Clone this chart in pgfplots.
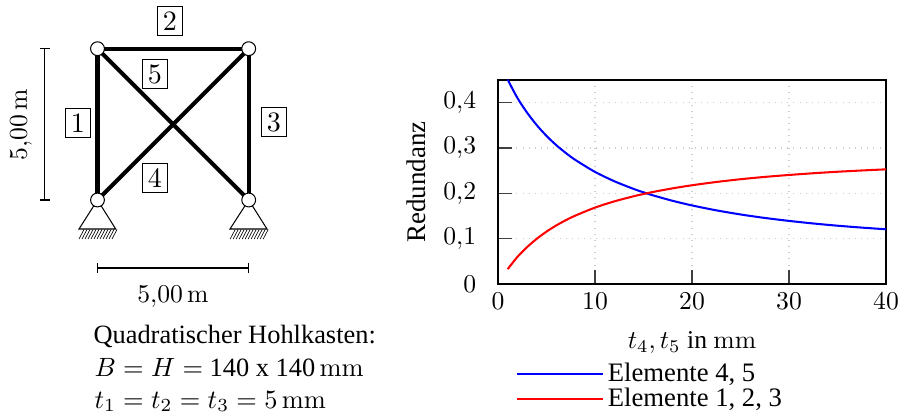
\documentclass[border=0pt]{standalone}
\usepackage[no-math]{fontspec}
\setmainfont{Liberation Serif}
\usepackage{pgfplots}
\pgfplotsset{compat=1.18}
\tikzset{member/.style={draw,line width=0.4pt,inner sep=0pt,minimum width=9.4pt,minimum height=11.3pt,font=\fontsize{10.95}{13}\selectfont}}
\begin{document}
\begin{tikzpicture}
\useasboundingbox (0,0) rectangle (350.61pt,163.02pt);
% diagram canvas in reference pixels
\begin{axis}[at={(0pt,0pt)},anchor=south west,scale only axis,width=350.61pt,height=163.02pt,
  hide axis,xmin=0,xmax=899,ymin=0,ymax=418,y dir=reverse,clip=false]
\addplot[black,line width=1.7pt,forget plot] coordinates {(97.5,200) (97.5,48.7)};
\addplot[black,line width=1.7pt,forget plot] coordinates {(97.5,48.7) (248.7,48.7)};
\addplot[black,line width=1.7pt,forget plot] coordinates {(248.7,48.7) (248.7,200)};
\addplot[black,line width=1.6pt,forget plot] coordinates {(97.5,200) (248.7,48.7)};
\addplot[black,line width=1.6pt,forget plot] coordinates {(97.5,48.7) (248.7,200)};
\addplot[black,line width=0.4pt,forget plot] coordinates {(97.5,200) (79,229) (115.7,229) (97.5,200)};
\addplot[black,line width=0.4pt,forget plot] coordinates {(248.7,200) (230,229) (267,229) (248.7,200)};
\addplot[only marks,mark=*,mark size=2.7pt,mark options={fill=white,draw=black,line width=0.4pt},forget plot]
  coordinates {(97.5,48.7) (248.7,48.7) (97.5,200) (248.7,200)};
\pgfplotsinvokeforeach{79,82,...,112}{
  \draw[black,line width=0.25pt] (axis cs:#1,239) -- (axis cs:#1+5,229.5);
  \draw[black,line width=0.25pt] (axis cs:#1+151.2,239) -- (axis cs:#1+156.2,229.5);
}
% dimensions
\addplot[black,line width=0.4pt,forget plot] coordinates {(44.7,48.7) (44.7,200)};
\addplot[black,line width=0.4pt,forget plot] coordinates {(39.5,48.7) (50,48.7)};
\addplot[black,line width=0.4pt,forget plot] coordinates {(39.5,200) (50,200)};
\addplot[black,line width=0.4pt,forget plot] coordinates {(97.5,268) (248.7,268)};
\addplot[black,line width=0.4pt,forget plot] coordinates {(97.5,263) (97.5,273)};
\addplot[black,line width=0.4pt,forget plot] coordinates {(248.7,263) (248.7,273)};
\node[rotate=90] at (axis cs:21,125) {$5{,}00\,\mathrm{m}$};
\node at (axis cs:173,297) {$5{,}00\,\mathrm{m}$};
% member labels
\node[member] at (axis cs:78,123) {$1$};
\node[member] at (axis cs:170,21) {$2$};
\node[member] at (axis cs:274,122) {$3$};
\node[member] at (axis cs:155,178) {$4$};
\node[member] at (axis cs:155,74) {$5$};
% text block
\node[anchor=base west,inner sep=0pt,scale=1.03] at (axis cs:93,343) {Quadratischer Hohlkasten:};
\node[anchor=base west,inner sep=0pt,scale=1.03] at (axis cs:94,376) {$B=H=$ 140 x 140\,$\mathrm{mm}$};
\node[anchor=base west,inner sep=0pt,scale=1.03] at (axis cs:94,408) {$t_1=t_2=t_3=5\,\mathrm{mm}$};
\end{axis}
% chart
\begin{axis}[at={(194.22pt,52.26pt)},anchor=south west,scale only axis,width=151.32pt,height=79.56pt,
  xmin=0,xmax=40,ymin=0,ymax=0.45,
  xtick={0,10,20,30,40},ytick={0,0.1,0.2,0.3,0.4},
  yticklabels={$0$,{$0{,}1$},{$0{,}2$},{$0{,}3$},{$0{,}4$}},
  yticklabel style={xshift=-5pt},
  xtick pos=bottom,ytick pos=left,tick align=inside,
  major tick length=5.4pt,
  tick style={line width=0.4pt,black!75},
  grid=major,grid style={dotted,black!20,line width=0.5pt},
  axis line style={line width=0.5pt},
  xlabel={$t_4,t_5$ in $\mathrm{mm}$},ylabel={Redundanz},
  xlabel style={yshift=-1.7pt},ylabel style={yshift=-0.3pt,scale=1.05},
  legend style={at={(0.045,-0.365)},anchor=north west,draw=none,fill=none,inner sep=0pt,
    row sep=-2.1pt,nodes={inner sep=1.5pt,anchor=west,scale=1.04}},
  legend cell align=left,
  legend image code/.code={\draw[#1] (0pt,0pt) -- (27.3pt,0pt);\path (0pt,0pt) -- (33.5pt,0pt);},
]
\addplot[blue,line width=0.8pt,smooth] coordinates {
(1,0.4508)(2,0.4104)(3,0.3779)(4,0.3503)(5,0.3267)(6,0.3064)(7,0.2888)(8,0.2733)(10,0.2473)(12,0.2266)(14,0.2096)(15,0.2022)(16,0.1954)(18,0.1835)(20,0.1733)(22.5,0.1625)(25,0.1534)(27.5,0.1457)(30,0.1392)(32.5,0.1335)(35,0.1286)(37.5,0.1244)(40,0.1207)};
\addlegendentry{Elemente 4, 5}
\addplot[red,line width=0.8pt,smooth] coordinates {
(1,0.0328)(2,0.0597)(3,0.0814)(4,0.0998)(5,0.1155)(6,0.1291)(7,0.1408)(8,0.1511)(10,0.1685)(12,0.1823)(14,0.1936)(15,0.1985)(16,0.2031)(18,0.2110)(20,0.2178)(22.5,0.2250)(25,0.2311)(27.5,0.2362)(30,0.2405)(32.5,0.2443)(35,0.2476)(37.5,0.2504)(40,0.2529)};
\addlegendentry{Elemente 1, 2, 3}
\end{axis}
\end{tikzpicture}
\end{document}
